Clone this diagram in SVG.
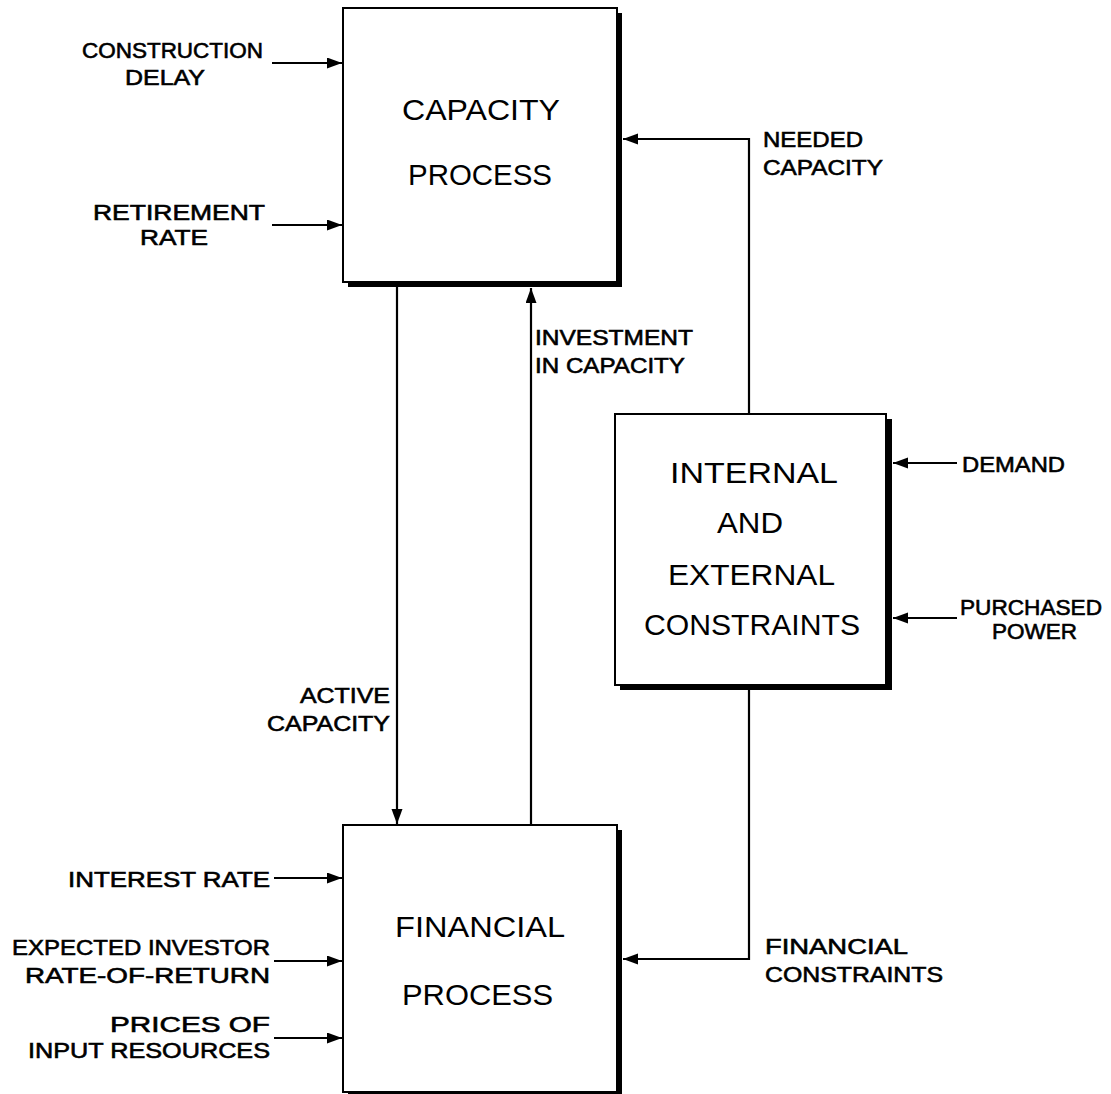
<svg xmlns="http://www.w3.org/2000/svg" width="1111" height="1094" viewBox="0 0 1111 1094">
<style>
.box{fill:#fff;stroke:#000;stroke-width:2}
.shadow{fill:#000}
.t{font-family:"Liberation Sans",Arial,sans-serif;fill:#000}
.big{font-size:30px}
.lbl{font-size:22px;stroke:#000;stroke-width:0.6}
.ln{fill:none;stroke:#000;stroke-width:2.2}
</style>
<defs>
<marker id="ah" markerUnits="userSpaceOnUse" markerWidth="16" markerHeight="12" refX="15" refY="5.5" orient="auto">
<path d="M0,0 L15,5.5 L0,11 z" fill="#000"/>
</marker>
</defs>
<rect width="1111" height="1094" fill="#fff"/>
<g id="capacity-process">
<rect class="shadow" x="348" y="13" width="274" height="274"/>
<rect class="box" x="343" y="8" width="274" height="274"/>
<text class="t big" x="402" y="120" textLength="158" lengthAdjust="spacingAndGlyphs">CAPACITY</text>
<text class="t big" x="408" y="185" textLength="144" lengthAdjust="spacingAndGlyphs">PROCESS</text>
</g>
<g id="constraints">
<rect class="shadow" x="620" y="419" width="272" height="271"/>
<rect class="box" x="615" y="414" width="271" height="271"/>
<text class="t big" x="670" y="483" textLength="168" lengthAdjust="spacingAndGlyphs">INTERNAL</text>
<text class="t big" x="717" y="533" textLength="66" lengthAdjust="spacingAndGlyphs">AND</text>
<text class="t big" x="668" y="585" textLength="167" lengthAdjust="spacingAndGlyphs">EXTERNAL</text>
<text class="t big" x="644" y="635" textLength="216" lengthAdjust="spacingAndGlyphs">CONSTRAINTS</text>
</g>
<g id="financial-process">
<rect class="shadow" x="348" y="830" width="274" height="268"/>
<rect class="box" x="343" y="825" width="274" height="267"/>
<text class="t big" x="395" y="937" textLength="170" lengthAdjust="spacingAndGlyphs">FINANCIAL</text>
<text class="t big" x="402" y="1005" textLength="151" lengthAdjust="spacingAndGlyphs">PROCESS</text>
</g>
<g id="connectors">
<line class="ln" x1="272" y1="63" x2="342" y2="63" marker-end="url(#ah)"/>
<line class="ln" x1="272" y1="225" x2="342" y2="225" marker-end="url(#ah)"/>
<polyline class="ln" points="749,414 749,139 623,139" marker-end="url(#ah)"/>
<line class="ln" x1="397" y1="287" x2="397" y2="824" marker-end="url(#ah)"/>
<line class="ln" x1="531" y1="825" x2="531" y2="288" marker-end="url(#ah)"/>
<line class="ln" x1="957" y1="463" x2="893" y2="463" marker-end="url(#ah)"/>
<line class="ln" x1="957" y1="618" x2="893" y2="618" marker-end="url(#ah)"/>
<polyline class="ln" points="749,690 749,959 623,959" marker-end="url(#ah)"/>
<line class="ln" x1="274" y1="878" x2="342" y2="878" marker-end="url(#ah)"/>
<line class="ln" x1="274" y1="961" x2="342" y2="961" marker-end="url(#ah)"/>
<line class="ln" x1="274" y1="1038" x2="342" y2="1038" marker-end="url(#ah)"/>
</g>
<g id="labels">
<text class="t lbl" x="82" y="58" textLength="181" lengthAdjust="spacingAndGlyphs">CONSTRUCTION</text>
<text class="t lbl" x="125" y="85" textLength="80" lengthAdjust="spacingAndGlyphs">DELAY</text>
<text class="t lbl" x="93" y="220" textLength="172" lengthAdjust="spacingAndGlyphs">RETIREMENT</text>
<text class="t lbl" x="140" y="245" textLength="68" lengthAdjust="spacingAndGlyphs">RATE</text>
<text class="t lbl" x="763" y="147" textLength="100" lengthAdjust="spacingAndGlyphs">NEEDED</text>
<text class="t lbl" x="763" y="175" textLength="120" lengthAdjust="spacingAndGlyphs">CAPACITY</text>
<text class="t lbl" x="535" y="345" textLength="158" lengthAdjust="spacingAndGlyphs">INVESTMENT</text>
<text class="t lbl" x="535" y="373" textLength="150" lengthAdjust="spacingAndGlyphs">IN CAPACITY</text>
<text class="t lbl" x="300" y="703" textLength="90" lengthAdjust="spacingAndGlyphs">ACTIVE</text>
<text class="t lbl" x="267" y="731" textLength="123" lengthAdjust="spacingAndGlyphs">CAPACITY</text>
<text class="t lbl" x="962" y="472" textLength="103" lengthAdjust="spacingAndGlyphs">DEMAND</text>
<text class="t lbl" x="960" y="615" textLength="142" lengthAdjust="spacingAndGlyphs">PURCHASED</text>
<text class="t lbl" x="992" y="639" textLength="85" lengthAdjust="spacingAndGlyphs">POWER</text>
<text class="t lbl" x="765" y="954" textLength="143" lengthAdjust="spacingAndGlyphs">FINANCIAL</text>
<text class="t lbl" x="765" y="982" textLength="178" lengthAdjust="spacingAndGlyphs">CONSTRAINTS</text>
<text class="t lbl" x="68" y="887" textLength="202" lengthAdjust="spacingAndGlyphs">INTEREST RATE</text>
<text class="t lbl" x="12" y="955" textLength="258" lengthAdjust="spacingAndGlyphs">EXPECTED INVESTOR</text>
<text class="t lbl" x="25" y="983" textLength="245" lengthAdjust="spacingAndGlyphs">RATE-OF-RETURN</text>
<text class="t lbl" x="110" y="1032" textLength="160" lengthAdjust="spacingAndGlyphs">PRICES OF</text>
<text class="t lbl" x="28" y="1058" textLength="242" lengthAdjust="spacingAndGlyphs">INPUT RESOURCES</text>
</g>
</svg>
